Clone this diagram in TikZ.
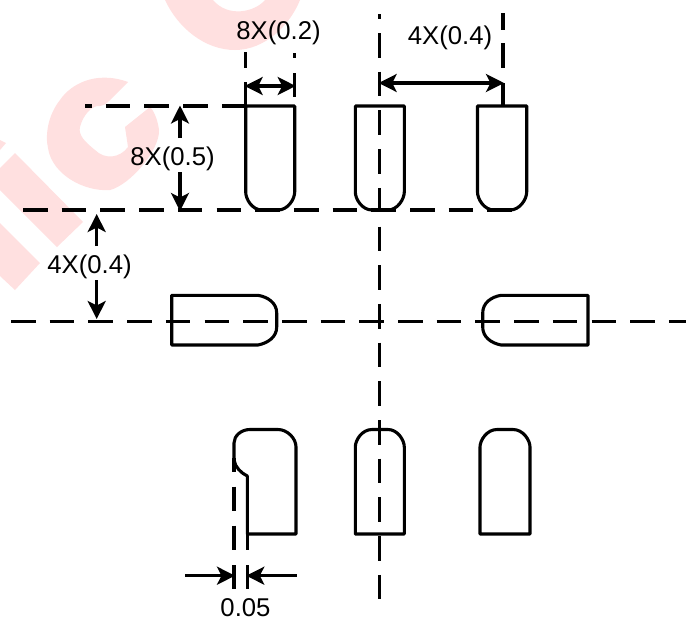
\documentclass[tikz,border=0pt]{standalone}
\usepackage{fontspec}
\setmainfont{Liberation Sans}
\usetikzlibrary{arrows.meta}
\definecolor{wmpink}{HTML}{FFE0E0}
\tikzset{
  x=1pt,y=-1pt,
  wm/.style={fill=wmpink,draw=none},
  pad/.style={line width=3.1pt,line join=round},
  ctr/.style={line width=3.1pt,dash pattern=on 24.6pt off 14.1pt},
  ext/.style={line width=3.1pt},
  tip/.tip={Stealth[length=18pt,width=18pt,inset=4.5pt]},
  dim/.style={line width=3.1pt,tip-tip,shorten <=-1pt,shorten >=-1pt},
  dimto/.style={line width=3.1pt,-tip,shorten >=-1pt},
  lbl/.style={font=\fontsize{25.7}{26}\selectfont,inner sep=0pt,text=black}
}
\begin{document}
\begin{tikzpicture}
\useasboundingbox (0,0) rectangle (686,619);
\fill[white] (0,0) rectangle (686,619);
% watermark
\fill[wm] (165,0) .. controls (178,28) and (205,50) .. (235,50) .. controls (265,50) and (290,25) .. (300,0) -- (265,0) .. controls (255,12) and (228,18) .. (213,0) -- cycle;
\fill[wm] (128,82) .. controls (95,70) and (70,85) .. (60,100) .. controls (48,115) and (45,135) .. (48,148) .. controls (52,175) and (85,192) .. (110,190) .. controls (130,185) and (160,150) .. (159,130) .. controls (158,122) and (155,112) .. (150,107) -- (125,127) -- (128,147) .. controls (120,158) and (105,160) .. (95,150) .. controls (85,142) and (78,135) .. (80,127) .. controls (83,115) and (92,105) .. (100,106) .. controls (105,106) and (110,100) .. (113,97) -- cycle;
\fill[wm] (0,140) -- (6,143) -- (0,150) -- cycle;
\fill[wm] (15,153) -- (83,222) -- (57,247) -- (0,190) -- (0,168) -- cycle;
\fill[wm] (0,223) -- (40,263) -- (15,290) -- (0,276) -- cycle;
% pads top row
\draw[pad] (245.7,106) -- (294.7,106) -- (294.7,192) .. controls (294.7,199) and (288,210) .. (278,210) -- (262,210) .. controls (252,210) and (245.7,199) .. (245.7,192) -- cycle;
\draw[pad] (355.3,106) -- (404.3,106) -- (404.3,192) .. controls (404.3,199) and (397.5,210) .. (388,210) -- (372,210) .. controls (362,210) and (355.3,199) .. (355.3,192) -- cycle;
\draw[pad] (477.5,106) -- (526.7,106) -- (526.7,192) .. controls (526.7,199) and (520,210) .. (510,210) -- (494,210) .. controls (484,210) and (477.5,199) .. (477.5,192) -- cycle;
% side pads
\draw[pad] (171.7,295.3) -- (258,295.3) .. controls (268,297) and (276.7,303) .. (276.7,313) -- (276.7,327) .. controls (276.7,337) and (268,343) .. (258,345) -- (171.7,345) -- cycle;
\draw[pad] (588,295.3) -- (501,295.3) .. controls (491,297) and (482.7,303) .. (482.7,313) -- (482.7,327) .. controls (482.7,337) and (491,343) .. (501,345) -- (588,345) -- cycle;
% bottom row
\draw[pad] (247.3,534) -- (296,534) -- (296,447) .. controls (296,438) and (287,429.5) .. (278,429.5) -- (250,429.5) .. controls (241,429.5) and (234,436) .. (234,443) -- (234,460) .. controls (235,467) and (241,473) .. (247.3,476) -- cycle;
\draw[pad] (234,458) -- (234,472);
\draw[pad] (355.3,534) -- (404.3,534) -- (404.3,447) .. controls (404.3,440) and (397.5,429.5) .. (388,429.5) -- (372,429.5) .. controls (362,429.5) and (355.3,440) .. (355.3,447) -- cycle;
\draw[pad] (480,534) -- (530,534) -- (530,447) .. controls (530,440) and (523,429.5) .. (513,429.5) -- (497,429.5) .. controls (487,429.5) and (480,440) .. (480,447) -- cycle;
% centre and extension lines
\draw[ctr] (23,210) -- (512,210);
\draw[ctr,dash phase=18] (85,106) -- (245.7,106);
\draw[ctr] (11,321.7) -- (686,321.7);
\draw[ctr,dash phase=19.7] (379.7,14) -- (379.7,601);
\draw[ext] (245.7,52) -- (245.7,68) (245.7,82) -- (245.7,106);
\draw[ext] (294.7,53) -- (294.7,58) (294.7,73) -- (294.7,97);
\draw[ext] (503,13) -- (503,30) (503,43) -- (503,68) (503,83) -- (503,106);
\draw[ext] (234,486.7) -- (234,510.7) (234,525.7) -- (234,550) (234,565) -- (234,589);
\draw[ext] (247.3,534) -- (247.3,550) (247.3,565) -- (247.3,589);
% dimensions
\draw[dim] (245.7,86) -- (294.7,86);
\draw[dim] (379.7,83) -- (503,83);
\draw[dimto] (180,138) -- (180,106.5);
\draw[dimto] (180,172) -- (180,210);
\draw[dimto] (96.7,246) -- (96.7,215);
\draw[dimto] (96.7,280) -- (96.7,318);
\draw[dimto] (185,575.7) -- (234,575.7);
\draw[dimto] (296.7,575.7) -- (247.3,575.7);
% labels
\node[lbl] (a) at (278.5,33) {8X(0.2)};
\node[lbl] (b) at (450,37.5) {4X(0.4)};
\node[lbl] (c) at (172.5,158.5) {8X(0.5)};
\node[lbl] (d) at (89.5,266.5) {4X(0.4)};
\node[lbl] (e) at (245.5,608) {0.05};
\end{tikzpicture}
\end{document}
